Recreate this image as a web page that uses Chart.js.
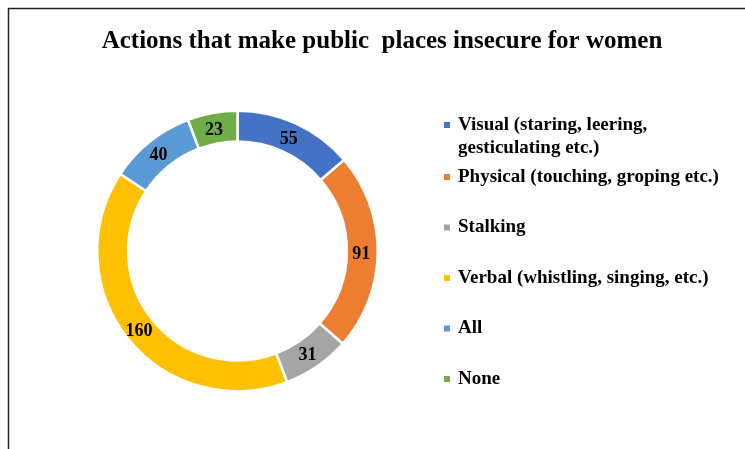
<!DOCTYPE html>
<html>
<head>
<meta charset="utf-8">
<script src="https://cdn.jsdelivr.net/npm/chart.js@4.4.1/dist/chart.umd.min.js"></script>
<style>
  html, body { margin: 0; padding: 0; background: #fff; }
  #wrap { position: relative; width: 745px; height: 449px; }
</style>
</head>
<body>
<div id="wrap"><canvas id="actionsChart" width="745" height="449"></canvas></div>
<script>
const chartTitle = "Actions that make public  places insecure for women";
const categories = ["Visual (staring, leering, gesticulating etc.)", "Physical (touching, groping etc.)", "Stalking", "Verbal (whistling, singing, etc.)", "All", "None"];
const legendLines = [["Visual (staring, leering,", "gesticulating etc.)"], ["Physical (touching, groping etc.)"], ["Stalking"], ["Verbal (whistling, singing, etc.)"], ["All"], ["None"]];
const counts = [55, 91, 31, 160, 40, 23];
const sliceColours = ["#4472C4", "#ED7D31", "#A5A5A5", "#FFC000", "#5B9BD5", "#70AD47"];

const serif = '"Liberation Serif", "Times New Roman", serif';

// frame, title, value labels and legend drawn by hand to match the office-style look
const decorations = {
  id: "decorations",
  beforeDraw(chart) {
    let ctx = chart.ctx;
    ctx.save();
    ctx.fillStyle = "#fff";
    ctx.fillRect(0, 0, chart.width, chart.height);
    ctx.strokeStyle = "#222";
    ctx.lineWidth = 1.5;
    ctx.strokeRect(8.5, 8.5, 800, 500);
    ctx.restore();
  },
  afterDraw(chart) {
    let ctx = chart.ctx;
    ctx.save();
    // title
    ctx.fillStyle = "#000";
    ctx.font = "bold 25px " + serif;
    ctx.textAlign = "center";
    ctx.textBaseline = "alphabetic";
    ctx.fillText(chartTitle, 382, 48);

    // value labels in the middle of each ring segment
    ctx.textBaseline = "middle";
    ctx.font = "bold 18px " + serif;
    let meta = chart.getDatasetMeta(0);
    meta.data.forEach(function (arc, i) {
      let p = arc.tooltipPosition();
      ctx.fillText(String(counts[i]), p.x - 1, p.y + 2);
    });

    // legend
    ctx.font = "bold 19px " + serif;
    ctx.textAlign = "left";
    for (let i = 0; i < legendLines.length; i++) {
      let y = i === 0 ? 125 : 177 + (i - 1) * 50.5;
      ctx.fillStyle = sliceColours[i];
      ctx.fillRect(444, y - 3, 6, 6);
      ctx.fillStyle = "#000";
      legendLines[i].forEach(function (line, k) {
        ctx.fillText(line, 458, y + k * 23);
      });
    }
    ctx.restore();
  }
};

new Chart(document.getElementById("actionsChart"), {
  type: "doughnut",
  data: {
    labels: categories,
    datasets: [{
      data: counts,
      backgroundColor: sliceColours,
      borderColor: "#fff",
      borderWidth: 2.5
    }]
  },
  options: {
    responsive: false,
    animation: false,
    cutout: "78%",
    layout: { padding: { left: 96, right: 366, top: 109, bottom: 56 } },
    plugins: {
      legend: { display: false },
      title: { display: false },
      tooltip: { enabled: false }
    }
  },
  plugins: [decorations]
});
</script>
</body>
</html>
